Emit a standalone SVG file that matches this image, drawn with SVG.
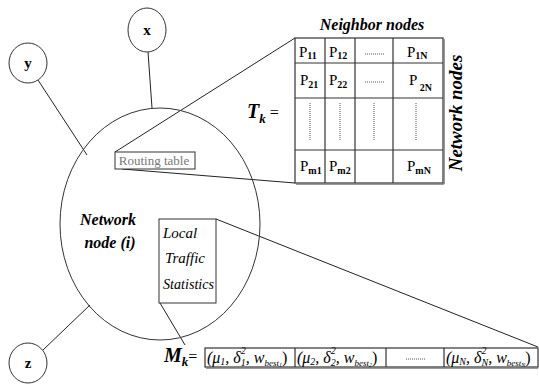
<svg xmlns="http://www.w3.org/2000/svg" width="539" height="390" viewBox="0 0 539 390">
<style>
text{font-family:"Liberation Serif","Times New Roman",serif}
.ln{stroke:#222;stroke-width:1;fill:none}
.nd{stroke:#333;stroke-width:1;fill:#fff}
.tb{stroke:#333;stroke-width:1.2;fill:none}
.lbl{font-weight:bold;font-size:15px;fill:#000}
.bi{font-weight:bold;font-style:italic;fill:#000}
.it{font-style:italic;font-size:15px;fill:#000}
.f{font-style:italic;font-size:16px;fill:#000}
.p{font-size:15px;fill:#000}
.sb{font-size:10px;font-weight:bold}
.dot{stroke:#555;stroke-width:1;stroke-dasharray:1 1;fill:none}
</style>
<rect width="539" height="390" fill="#fff"/>
<g id="connectors">
<line class="ln" x1="148" y1="52" x2="152" y2="108"/>
<line class="ln" x1="38" y1="80" x2="87" y2="155"/>
<line class="ln" x1="43" y1="350" x2="90" y2="305"/>
<line class="ln" x1="115" y1="152" x2="295" y2="38"/>
<line class="ln" x1="122" y1="169" x2="295" y2="183"/>
<line class="ln" x1="216" y1="219" x2="538" y2="347"/>
<line class="ln" x1="160" y1="303" x2="185" y2="345"/>
</g>
<g id="node-x">
<ellipse class="nd" cx="147" cy="30" rx="19" ry="22"/>
<text class="lbl" x="147" y="35" text-anchor="middle">x</text>
</g>
<g id="node-y">
<ellipse class="nd" cx="28" cy="63" rx="19" ry="20"/>
<text class="lbl" x="28" y="68" text-anchor="middle">y</text>
</g>
<g id="node-z">
<ellipse class="nd" cx="28" cy="363" rx="19" ry="20"/>
<text class="lbl" x="28" y="368" text-anchor="middle">z</text>
</g>
<g id="network-node">
<ellipse cx="160" cy="224" rx="100" ry="116" fill="none" stroke="#333" stroke-width="1"/>
<text class="bi" font-size="16" x="108" y="225" text-anchor="middle">Network</text>
<text class="bi" font-size="16" x="110" y="248" text-anchor="middle">node (i)</text>
</g>
<g id="routing-table">
<rect x="115" y="152" width="80" height="17" fill="#fff" stroke="#333"/>
<text x="154" y="165" text-anchor="middle" font-size="13" fill="#777">Routing table</text>
</g>
<g id="local-stats">
<rect x="159" y="219" width="57" height="84" fill="#fff" stroke="#333"/>
<text class="it" x="163" y="238">Local</text>
<text class="it" x="165" y="263">Traffic</text>
<text class="it" x="163" y="289" textLength="51" lengthAdjust="spacingAndGlyphs">Statistics</text>
</g>
<g id="tk-table">
<text class="bi" font-size="16" x="372" y="30" text-anchor="middle">Neighbor nodes</text>
<text class="bi" font-size="19" transform="translate(462,113) rotate(-90)" text-anchor="middle">Network nodes</text>
<text class="bi" font-size="20" x="247" y="118">T<tspan font-size="13" dy="5">k</tspan><tspan font-style="normal" font-weight="normal" font-size="16" dy="-5"> =</tspan></text>
<rect class="tb" x="295" y="38" width="148" height="145"/>
<line x1="444" y1="39" x2="444" y2="184" stroke="#777" stroke-width="1.5"/>
<line x1="296" y1="184" x2="444" y2="184" stroke="#777" stroke-width="1.5"/>
<line class="tb" x1="325" y1="38" x2="325" y2="183"/>
<line class="tb" x1="355" y1="38" x2="355" y2="183"/>
<line class="tb" x1="393" y1="38" x2="393" y2="183"/>
<line class="tb" x1="295" y1="63" x2="443" y2="63"/>
<line class="tb" x1="295" y1="98" x2="443" y2="98"/>
<line class="tb" x1="295" y1="150" x2="443" y2="150"/>
<text class="p" x="299" y="57">P<tspan class="sb" dy="2">11</tspan></text>
<text class="p" x="329" y="57">P<tspan class="sb" dy="2">12</tspan></text>
<line class="dot" x1="365" y1="54" x2="384" y2="54"/>
<text class="p" x="407" y="57">P<tspan class="sb" dy="2">1N</tspan></text>
<text class="p" x="300" y="85">P<tspan class="sb" dy="3">21</tspan></text>
<text class="p" x="329" y="85">P<tspan class="sb" dy="3">22</tspan></text>
<line class="dot" x1="365" y1="82" x2="384" y2="82"/>
<text class="p" x="409" y="85">P<tspan class="sb" dy="6"> 2N</tspan></text>
<line class="dot" x1="310" y1="103" x2="310" y2="140"/>
<line class="dot" x1="340" y1="103" x2="340" y2="140"/>
<line class="dot" x1="374" y1="103" x2="374" y2="140"/>
<line class="dot" x1="416" y1="103" x2="416" y2="140"/>
<text class="p" x="300" y="171">P<tspan class="sb" dy="3">m1</tspan></text>
<text class="p" x="329" y="171">P<tspan class="sb" dy="3">m2</tspan></text>
<text class="p" x="407" y="171">P<tspan class="sb" dy="3">mN</tspan></text>
</g>
<g id="mk-vector">
<text class="bi" font-size="20" x="164" y="362">M<tspan font-size="13" dy="4">k</tspan><tspan font-style="normal" font-weight="normal" font-size="16" dy="-4">=</tspan></text>
<rect class="tb" x="205" y="348" width="333" height="19"/>
<line x1="206" y1="368" x2="538" y2="368" stroke="#777" stroke-width="1.5"/>
<line class="tb" x1="295" y1="348" x2="295" y2="367"/>
<line class="tb" x1="386" y1="348" x2="386" y2="367"/>
<line class="tb" x1="444" y1="348" x2="444" y2="367"/>
<text class="f" x="207" y="363">(μ<tspan font-size="10" dy="2">1</tspan><tspan dy="-2">, δ</tspan><tspan font-size="10" dy="-9">2</tspan><tspan font-size="10" dx="-5" dy="12">1</tspan><tspan dy="-3">, w</tspan><tspan font-size="9" dy="3">best</tspan><tspan font-size="6" dy="1">1</tspan><tspan font-style="normal" dy="-4">)</tspan></text>
<text class="f" x="297" y="363">(μ<tspan font-size="10" dy="2">2</tspan><tspan dy="-2">, δ</tspan><tspan font-size="10" dy="-9">2</tspan><tspan font-size="10" dx="-5" dy="12">2</tspan><tspan dy="-3">, w</tspan><tspan font-size="9" dy="3">best</tspan><tspan font-size="6" dy="1">2</tspan><tspan font-style="normal" dy="-4">)</tspan></text>
<line class="dot" x1="406" y1="359" x2="425" y2="359"/>
<text class="f" x="446" y="363">(μ<tspan font-size="10" dy="2">N</tspan><tspan dy="-2">, δ</tspan><tspan font-size="10" dy="-9">2</tspan><tspan font-size="10" dx="-5" dy="12">N</tspan><tspan dy="-3">, w</tspan><tspan font-size="9" dy="3">best</tspan><tspan font-size="6" dy="1">N</tspan><tspan font-style="normal" dy="-4">)</tspan></text>
</g>
</svg>
